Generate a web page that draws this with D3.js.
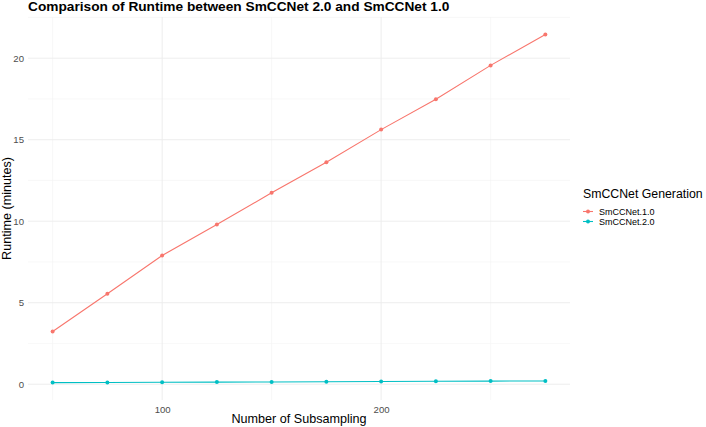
<!DOCTYPE html>
<html><head><meta charset="utf-8">
<script src="https://cdn.jsdelivr.net/npm/d3@7"></script>
<style>body{margin:0;background:#fff}svg{display:block}text{font-family:"Liberation Sans",Arial,sans-serif}</style>
</head><body>
<svg id="c" width="706" height="427"></svg>
<script>
const subsampling = [50, 75, 100, 125, 150, 175, 200, 225, 250, 275];
const runtimeV1 = [3.23, 5.55, 7.90, 9.80, 11.74, 13.62, 15.62, 17.48, 19.56, 21.46];
const runtimeV2 = [0.10, 0.11, 0.12, 0.13, 0.14, 0.15, 0.17, 0.18, 0.19, 0.20];
const seriesNames = ["SmCCNet.1.0", "SmCCNet.2.0"];
const xTicks = [100, 200];
const xMinor = [50, 150, 250];
const yTicks = [0, 5, 10, 15, 20];
const yMinor = [2.5, 7.5, 12.5, 17.5, 22.5];

const colors = ["#F8766D", "#00BFC4"];
const svg = d3.select("#c");
const L = 28, R = 570, T = 17, B = 400;
const xmin = d3.min(subsampling), xmax = d3.max(subsampling);
const ally = runtimeV1.concat(runtimeV2);
const ymin = d3.min(ally), ymax = d3.max(ally);
const ex = (xmax - xmin) * 0.05, ey = (ymax - ymin) * 0.05;
const x = d3.scaleLinear().domain([xmin - ex, xmax + ex]).range([L, R]);
const y = d3.scaleLinear().domain([ymin - ey, ymax + ey]).range([B, T]);

const g = svg.append("g");
g.selectAll(".xm").data(xMinor).join("line").attr("x1", d => x(d)).attr("x2", d => x(d))
  .attr("y1", T).attr("y2", B).attr("stroke", "#f3f3f3").attr("stroke-width", 0.6);
g.selectAll(".ym").data(yMinor.filter(v => y(v) >= T)).join("line").attr("y1", d => y(d)).attr("y2", d => y(d))
  .attr("x1", L).attr("x2", R).attr("stroke", "#f3f3f3").attr("stroke-width", 0.6);
g.selectAll(".xM").data(xTicks).join("line").attr("x1", d => x(d)).attr("x2", d => x(d))
  .attr("y1", T).attr("y2", B).attr("stroke", "#ebebeb").attr("stroke-width", 0.9);
g.selectAll(".yM").data(yTicks).join("line").attr("y1", d => y(d)).attr("y2", d => y(d))
  .attr("x1", L).attr("x2", R).attr("stroke", "#ebebeb").attr("stroke-width", 0.9);

const xAxis = svg.append("g").attr("transform", `translate(0,${B})`)
  .call(d3.axisBottom(x).tickValues(xTicks).tickSize(0).tickPadding(6));
xAxis.select(".domain").remove();
xAxis.selectAll("text").attr("font-size", 9.6).attr("fill", "#4d4d4d").attr("font-family", "Liberation Sans, Arial, sans-serif");
const yAxis = svg.append("g").attr("transform", `translate(${L},0)`)
  .call(d3.axisLeft(y).tickValues(yTicks).tickSize(0).tickPadding(4));
yAxis.select(".domain").remove();
yAxis.selectAll("text").attr("font-size", 9.6).attr("fill", "#4d4d4d").attr("font-family", "Liberation Sans, Arial, sans-serif");

const series = [runtimeV1, runtimeV2];
const line = d3.line().x((d, i) => x(subsampling[i])).y(d => y(d));
series.forEach((s, k) => {
  svg.append("path").datum(s).attr("d", line).attr("fill", "none").attr("stroke", colors[k]).attr("stroke-width", 1.1);
  svg.append("g").selectAll("circle").data(s).join("circle")
    .attr("cx", (d, i) => x(subsampling[i])).attr("cy", d => y(d)).attr("r", 2).attr("fill", colors[k]);
});

svg.append("text").attr("x", 28).attr("y", 10.8).attr("font-size", 13.7).attr("font-weight", "bold").attr("fill", "#000")
  .text("Comparison of Runtime between SmCCNet 2.0 and SmCCNet 1.0");
svg.append("text").attr("x", (L + R) / 2).attr("y", 423).attr("text-anchor", "middle").attr("font-size", 12.6).attr("fill", "#000")
  .text("Number of Subsampling");
svg.append("text").attr("transform", `translate(11,${(T + B) / 2}) rotate(-90)`).attr("text-anchor", "middle")
  .attr("font-size", 12.6).attr("fill", "#000").text("Runtime (minutes)");

const lg = svg.append("g");
lg.append("text").attr("x", 583).attr("y", 198).attr("font-size", 12.3).attr("fill", "#000").text("SmCCNet Generation");
seriesNames.forEach((n, k) => {
  const cy = 211.5 + k * 10;
  lg.append("line").attr("x1", 583).attr("x2", 593).attr("y1", cy).attr("y2", cy).attr("stroke", colors[k]).attr("stroke-width", 1.1);
  lg.append("circle").attr("cx", 588).attr("cy", cy).attr("r", 2).attr("fill", colors[k]);
  lg.append("text").attr("x", 599).attr("y", cy + 3.2).attr("font-size", 9).attr("fill", "#000").text(n);
});
</script>
</body></html>
